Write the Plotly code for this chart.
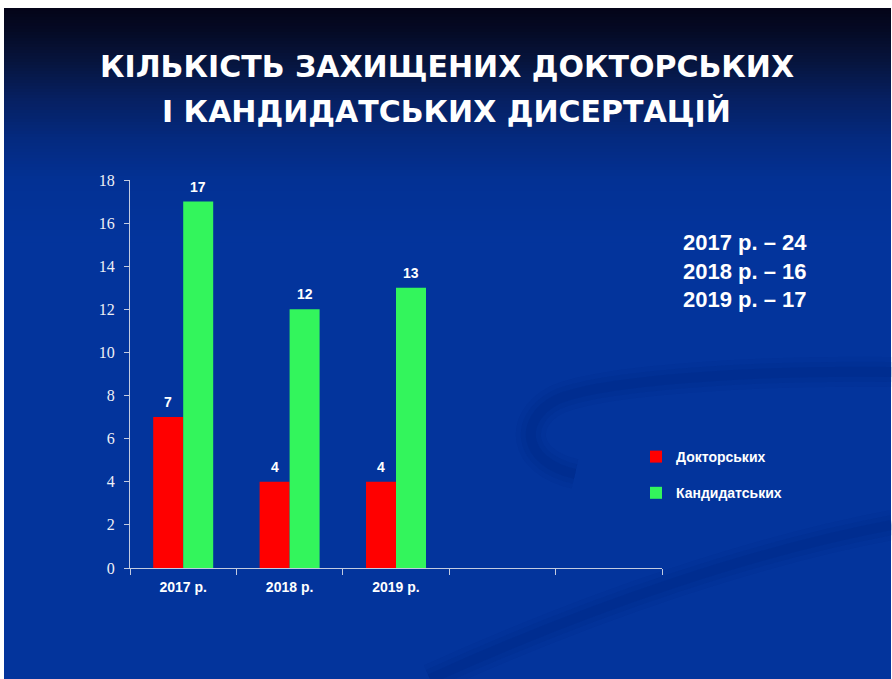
import plotly.graph_objects as go

# ---- data ----
years = ["2017 р.", "2018 р.", "2019 р."]
doctoral = [7, 4, 4]
candidate = [17, 12, 13]
series_names = ["Докторських", "Кандидатських"]
title_line1 = "КІЛЬКІСТЬ ЗАХИЩЕНИХ ДОКТОРСЬКИХ"
title_line2 = "І КАНДИДАТСЬКИХ ДИСЕРТАЦІЙ"
empty_slots = [" ", "  "]  # two empty category slots on the axis

W, H = 892, 679
L, R, T, B = 130, 230, 180, 111
PW, PH = W - L - R, H - T - B


def px_x(px):
    return (px - L) / PW


def px_y(py):
    return (H - B - py) / PH


cats = years + empty_slots
doc_y = doctoral + [None] * len(empty_slots)
can_y = candidate + [None] * len(empty_slots)

fig = go.Figure()
fig.add_trace(go.Bar(x=cats, y=doc_y, name=series_names[0], marker_color="#ff0000",
                     marker_line_width=0, legendgroup="a", hoverinfo="y+name"))
fig.add_trace(go.Bar(x=cats, y=can_y, name=series_names[1], marker_color="#33f55c",
                     marker_line_width=0, legendgroup="b", hoverinfo="y+name"))

# ---- background gradient (styling) ----
shapes = []
x0, x1 = px_x(4), px_x(891)
shapes.append(dict(type="rect", xref="paper", yref="paper", x0=x0, x1=x1,
                   y0=px_y(680), y1=px_y(8), fillcolor="rgb(3,52,156)",
                   line_width=0, layer="below"))
stops = [(8, (4, 4, 24)), (30, (5, 10, 36)), (60, (6, 20, 60)), (100, (6, 32, 98)),
         (140, (4, 42, 128)), (180, (3, 49, 148)), (240, (3, 52, 156))]


def col_at(py):
    for (ya, ca), (yb, cb) in zip(stops[:-1], stops[1:]):
        if ya <= py <= yb:
            f = (py - ya) / (yb - ya)
            return tuple(round(ca[i] + (cb[i] - ca[i]) * f) for i in range(3))
    return stops[-1][1]


step = 3
for py in range(8, 240, step):
    c = col_at(py + step / 2)
    shapes.append(dict(type="rect", xref="paper", yref="paper", x0=x0, x1=x1,
                       y0=px_y(py + step + 0.5), y1=px_y(py), fillcolor="rgb(%d,%d,%d)" % c,
                       line_width=0, layer="below"))


def pth(cmds):
    out = []
    for c in cmds:
        if isinstance(c, str):
            out.append(c)
        else:
            out.append("%.4f,%.4f" % (px_x(c[0]), px_y(c[1])))
    return " ".join(out)


# faint, soft decorative swooshes (stacked strokes for a blurred edge)
swoosh = [
    ["M", (892, 372), "C", (760, 370), (600, 380), (556, 400), "C", (518, 420), (522, 462), (575, 474)],
    ["M", (430, 679), "C", (600, 602), (760, 550), (892, 525)],
]
for cmds in swoosh:
    for w, a in ((30, 0.05), (20, 0.07), (10, 0.09)):
        shapes.append(dict(type="path", xref="paper", yref="paper", path=pth(cmds),
                           line=dict(color="rgba(0,25,105,%.2f)" % a, width=w), layer="below"))

# ---- annotations ----
totals = [d + c for d, c in zip(doctoral, candidate)]
totals_text = "<br>".join(f"{y} – {t}" for y, t in zip(years, totals))
title_font = dict(family="DejaVu Sans", size=30, color="white", weight="bold")
annotations = [
    dict(text=title_line1, x=px_x(447), y=px_y(67), xref="paper", yref="paper",
         showarrow=False, xanchor="center", yanchor="middle", font=title_font),
    dict(text=title_line2, x=px_x(446), y=px_y(112), xref="paper", yref="paper",
         showarrow=False, xanchor="center", yanchor="middle", font=title_font),
    dict(text=totals_text, x=px_x(681), y=px_y(271), xref="paper", yref="paper",
         showarrow=False, xanchor="left", yanchor="middle", align="left",
         font=dict(family="Liberation Sans", size=22, color="white", weight="bold")),
]
lab_font = dict(family="Liberation Sans", size=14, color="white", weight="bold")
for vals, shift in ((doctoral, -15), (candidate, 15)):
    for cat, v in zip(years, vals):
        annotations.append(dict(x=cat, y=v, xref="x", yref="y", text=str(v),
                                showarrow=False, xanchor="center", yanchor="bottom",
                                xshift=shift, yshift=5, font=lab_font))

fig.update_layout(
    width=W, height=H,
    margin=dict(l=L, r=R, t=T, b=B, pad=0),
    paper_bgcolor="white",
    plot_bgcolor="rgba(0,0,0,0)",
    barmode="group", bargap=0.436, bargroupgap=0,
    shapes=shapes, annotations=annotations,
    showlegend=True,
    legend=dict(x=px_x(636), y=px_y(441), xanchor="left", yanchor="top",
                bgcolor="rgba(0,0,0,0)", tracegroupgap=15,
                font=dict(family="Liberation Sans", size=14, color="white", weight="bold"),
                traceorder="grouped"),
    font=dict(family="Liberation Sans", color="white"),
)
fig.update_yaxes(range=[0, 18], dtick=2, showgrid=False, zeroline=False,
                 showline=True, linecolor="#c3cbe0", linewidth=1,
                 ticks="outside", ticklen=5, tickcolor="#c3cbe0", ticklabelstandoff=6,
                 tickfont=dict(family="Liberation Serif", size=16, color="#eef0f6"))
fig.update_xaxes(type="category", categoryorder="array", categoryarray=cats,
                 range=[-0.5, len(cats) - 0.5], showgrid=False, zeroline=False,
                 showline=True, linecolor="#c3cbe0", linewidth=1,
                 ticks="outside", ticklen=6, tickcolor="#c3cbe0", tickson="boundaries",
                 ticklabelstandoff=6,
                 tickfont=dict(family="Liberation Sans", size=14, color="white", weight="bold"))

fig.write_html("out.html", config={"displayModeBar": False},
               post_script="document.body.style.margin='0';")
